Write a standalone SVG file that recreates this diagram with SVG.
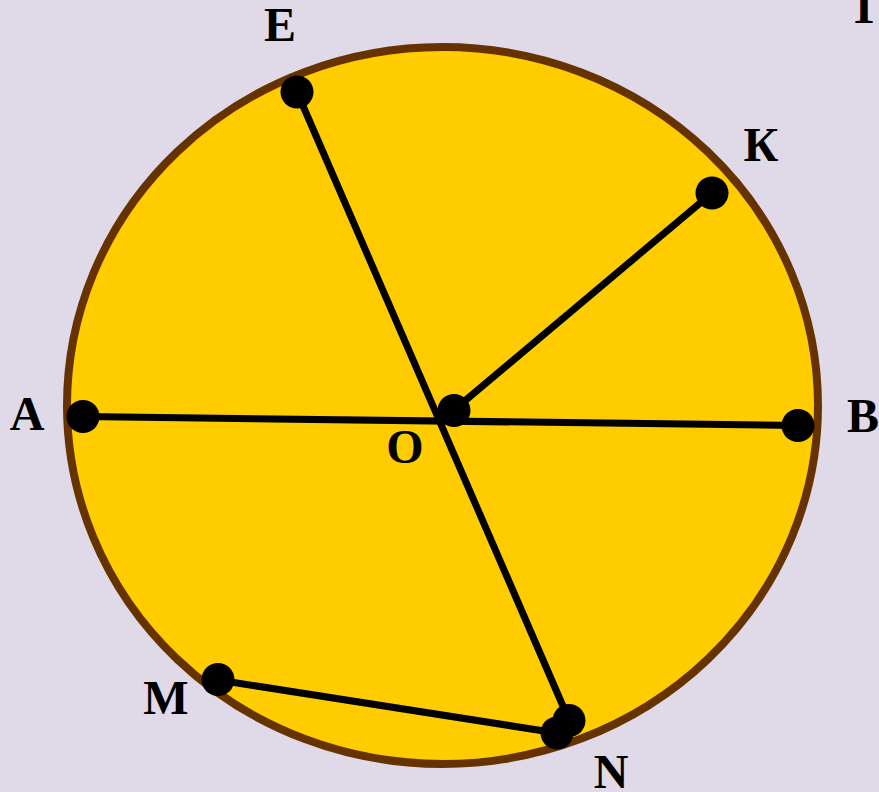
<svg xmlns="http://www.w3.org/2000/svg" width="879" height="792" viewBox="0 0 879 792">
<style>
.lbl{font-family:"Liberation Serif","Times New Roman",serif;font-weight:bold;font-size:48px;fill:#000;text-anchor:middle}
.seg{stroke:#000;stroke-width:7;stroke-linecap:round;fill:none}
.pt{fill:#000}
</style>
<rect width="879" height="792" fill="#DFD9E8"/>
<g id="circle">
<ellipse cx="442.5" cy="405.5" rx="375.5" ry="358.5" fill="#FFCC00" stroke="#663300" stroke-width="8"/>
</g>
<g id="connectors">
<line class="seg" x1="83" y1="416.5" x2="798" y2="425.5"/>
<line class="seg" x1="297" y1="92" x2="569" y2="720"/>
<line class="seg" x1="712" y1="193" x2="454" y2="410"/>
<line class="seg" x1="218" y1="680" x2="557" y2="733"/>
</g>
<g id="node-E"><circle class="pt" cx="297" cy="92" r="16.5"/><text class="lbl" x="280" y="41">E</text></g>
<g id="node-K"><circle class="pt" cx="712" cy="193" r="16.5"/><text class="lbl" x="761" y="161">К</text></g>
<g id="node-A"><circle class="pt" cx="83" cy="416.5" r="16.5"/><text class="lbl" x="27" y="430">A</text></g>
<g id="node-B"><circle class="pt" cx="798" cy="425.5" r="16.5"/><text class="lbl" x="863" y="432">B</text></g>
<g id="node-O"><circle class="pt" cx="454" cy="410.5" r="16.5"/><text class="lbl" x="405" y="463">O</text></g>
<g id="node-M"><circle class="pt" cx="218" cy="679.5" r="16.5"/><text class="lbl" x="166" y="714">M</text></g>
<g id="node-N"><circle class="pt" cx="569" cy="720.5" r="16.5"/><circle class="pt" cx="557" cy="733" r="16.5"/><text class="lbl" x="611" y="788">N</text></g>
<g id="node-T"><text class="lbl" x="864" y="23">Т</text></g>
</svg>
